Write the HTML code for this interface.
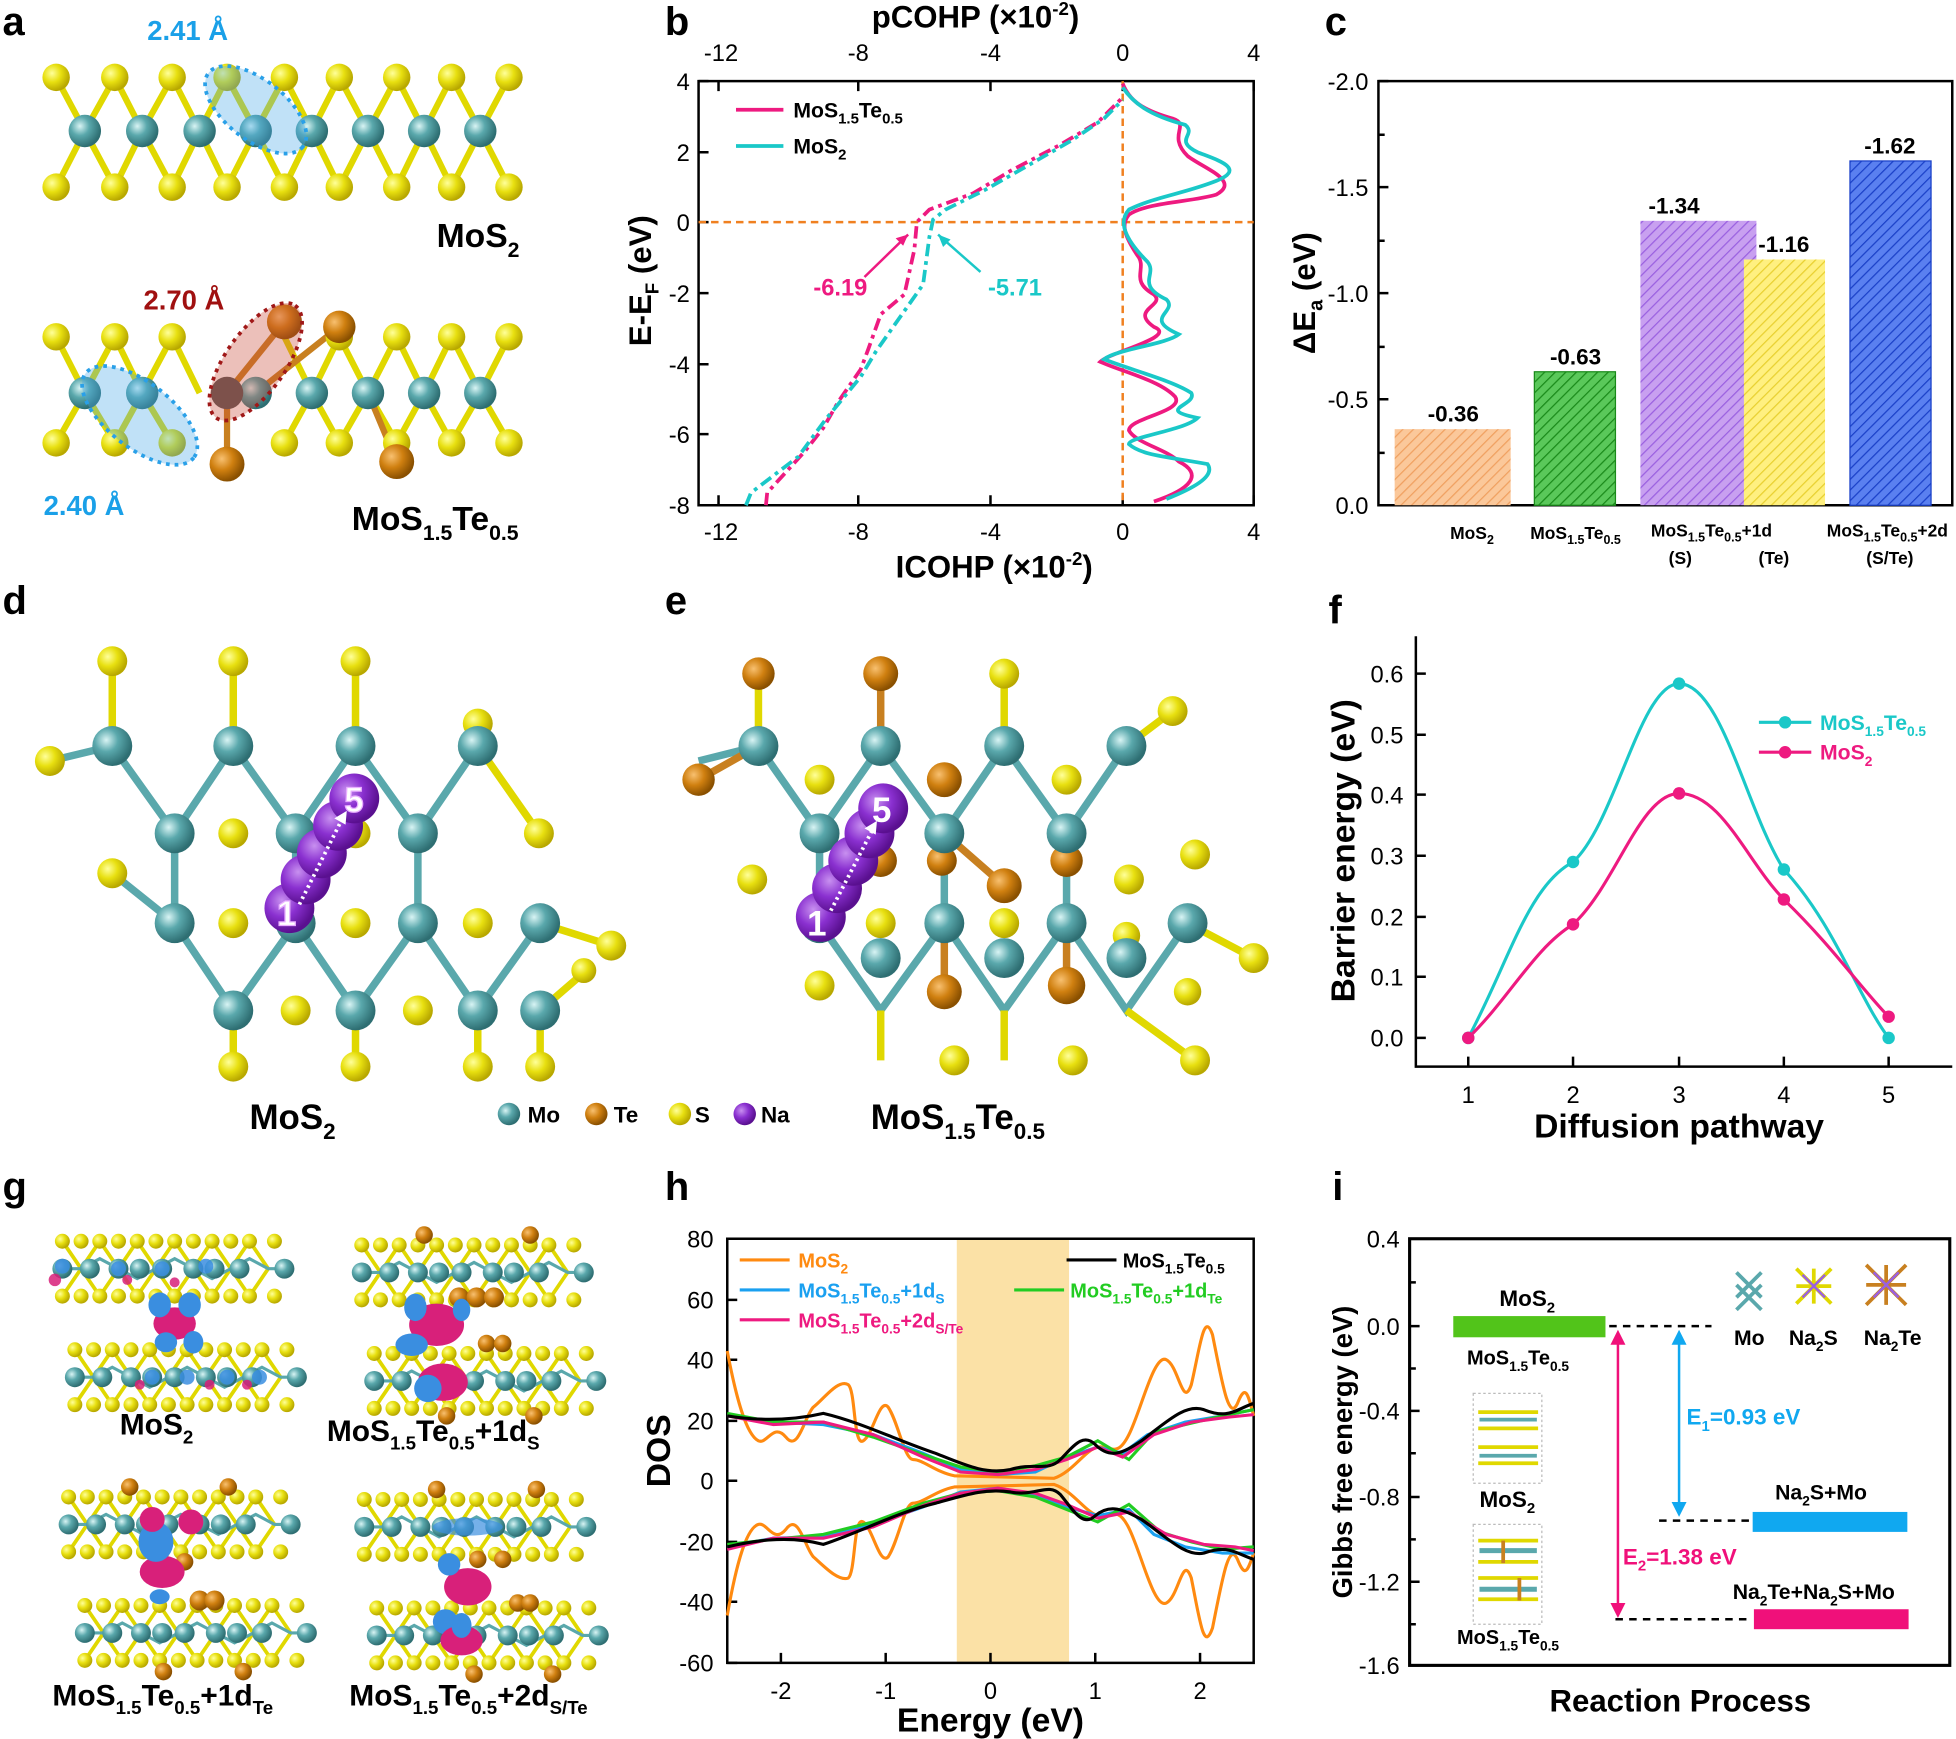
<!DOCTYPE html>
<html><head><meta charset="utf-8">
<style>
html,body{margin:0;padding:0;background:#fff;}
svg{display:block;font-family:"Liberation Sans",Arial,sans-serif;}
.t{font-size:18px;font-weight:bold;}
.tk{font-size:19px;}
.ax{font-size:25px;font-weight:bold;}
.pl{font-size:32px;font-weight:bold;}
</style></head><body>
<svg width="1956" height="1739" viewBox="0 0 1568 1394" xmlns="http://www.w3.org/2000/svg">
<defs>
<radialGradient id="gS" cx="35%" cy="35%" r="65%"><stop offset="0" stop-color="#ffff9a"/><stop offset="0.5" stop-color="#e8e010"/><stop offset="1" stop-color="#b8a800"/></radialGradient>
<radialGradient id="gM" cx="35%" cy="35%" r="65%"><stop offset="0" stop-color="#d8f4f4"/><stop offset="0.45" stop-color="#5aa8ac"/><stop offset="1" stop-color="#2e6e72"/></radialGradient>
<radialGradient id="gT" cx="35%" cy="35%" r="65%"><stop offset="0" stop-color="#f8c070"/><stop offset="0.5" stop-color="#d08010"/><stop offset="1" stop-color="#8a5000"/></radialGradient>
<radialGradient id="gN" cx="35%" cy="35%" r="65%"><stop offset="0" stop-color="#c890f0"/><stop offset="0.5" stop-color="#8a30d0"/><stop offset="1" stop-color="#5a1090"/></radialGradient>
<pattern id="hO" width="6" height="6" patternUnits="userSpaceOnUse" patternTransform="rotate(45)"><rect width="6" height="6" fill="#fbc89a"/><line x1="0" y1="0" x2="0" y2="6" stroke="#f0a060" stroke-width="2"/></pattern>
<pattern id="hG" width="6" height="6" patternUnits="userSpaceOnUse" patternTransform="rotate(45)"><rect width="6" height="6" fill="#5ac85a"/><line x1="0" y1="0" x2="0" y2="6" stroke="#1a8a1a" stroke-width="2"/></pattern>
<pattern id="hP" width="6" height="6" patternUnits="userSpaceOnUse" patternTransform="rotate(45)"><rect width="6" height="6" fill="#c8a0f0"/><line x1="0" y1="0" x2="0" y2="6" stroke="#9a60e0" stroke-width="2"/></pattern>
<pattern id="hY" width="6" height="6" patternUnits="userSpaceOnUse" patternTransform="rotate(45)"><rect width="6" height="6" fill="#fff080"/><line x1="0" y1="0" x2="0" y2="6" stroke="#e8d030" stroke-width="2"/></pattern>
<pattern id="hB" width="6" height="6" patternUnits="userSpaceOnUse" patternTransform="rotate(45)"><rect width="6" height="6" fill="#5a80f0"/><line x1="0" y1="0" x2="0" y2="6" stroke="#1a40c8" stroke-width="2"/></pattern>
<g id="L">
<path stroke="#e0d800" stroke-width="3" fill="none" d="M0 0 L15 22 L0 44 M30 0 L15 22 L30 44 M30 0 L45 22 L30 44 M60 0 L45 22 L60 44 M60 0 L75 22 L60 44 M90 0 L75 22 L90 44 M90 0 L105 22 L90 44 M120 0 L105 22 L120 44 M120 0 L135 22 L120 44 M150 0 L135 22 L150 44 M150 0 L165 22 L150 44"/>
<path stroke="#5aa8ac" stroke-width="2.5" fill="none" d="M0 22 L15 22 M15 22 L30 14 L45 22 L60 30 L75 22 L90 14 L105 22 L120 30 L135 22 L150 14 L165 22 L178 22"/>
<g fill="url(#gS)"><circle cx="0" cy="0" r="6"/><circle cx="15" cy="0" r="6"/><circle cx="30" cy="0" r="6"/><circle cx="45" cy="0" r="6"/><circle cx="60" cy="0" r="6"/><circle cx="75" cy="0" r="6"/><circle cx="90" cy="0" r="6"/><circle cx="105" cy="0" r="6"/><circle cx="120" cy="0" r="6"/><circle cx="135" cy="0" r="6"/><circle cx="150" cy="0" r="6"/><circle cx="170" cy="0" r="6"/>
<circle cx="0" cy="44" r="6"/><circle cx="15" cy="44" r="6"/><circle cx="30" cy="44" r="6"/><circle cx="45" cy="44" r="6"/><circle cx="60" cy="44" r="6"/><circle cx="75" cy="44" r="6"/><circle cx="90" cy="44" r="6"/><circle cx="105" cy="44" r="6"/><circle cx="120" cy="44" r="6"/><circle cx="135" cy="44" r="6"/><circle cx="150" cy="44" r="6"/><circle cx="170" cy="44" r="6"/></g>
<g fill="url(#gM)"><circle cx="0" cy="22" r="8"/><circle cx="22" cy="22" r="8"/><circle cx="45" cy="22" r="8"/><circle cx="62" cy="22" r="8"/><circle cx="80" cy="22" r="8"/><circle cx="105" cy="22" r="8"/><circle cx="122" cy="22" r="8"/><circle cx="142" cy="22" r="8"/><circle cx="178" cy="22" r="8"/></g>
</g>
</defs>

<text x="2" y="28" class="pl">a</text>
<text x="533" y="28" class="pl">b</text>
<text x="1062" y="28" class="pl">c</text>
<text x="2" y="492" class="pl">d</text>
<text x="533" y="492" class="pl">e</text>
<text x="1065" y="500" class="pl">f</text>
<text x="2" y="962" class="pl">g</text>
<text x="533" y="962" class="pl">h</text>
<text x="1068" y="962" class="pl">i</text>

<!-- ============ panel a ============ -->
<g stroke-width="5" fill="none" stroke="#e0d800">
<path d="M45 62 L68 105 L45 150 M92 62 L68 105 L92 150 M92 62 L114 105 L92 150 M138 62 L114 105 L138 150 M138 62 L160 105 L138 150 M182 62 L160 105 L182 150 M182 62 L205 105 L182 150 M228 62 L205 105 L228 150 M228 62 L250 105 L228 150 M272 62 L250 105 L272 150 M272 62 L295 105 L272 150 M318 62 L295 105 L318 150 M318 62 L340 105 L318 150 M362 62 L340 105 L362 150 M362 62 L385 105 L362 150 M408 62 L385 105 L408 150"/>
<path d="M45 270 L68 315 L45 355 M92 270 L68 315 L92 355 M92 270 L114 315 L92 355 M138 270 L114 315 L138 355 M138 270 L160 315 M228 270 L250 315 L228 355 M272 270 L250 315 L272 355 M272 270 L295 315 L272 355 M318 270 L295 315 L318 355 M318 270 L340 315 L318 355 M362 270 L340 315 L362 355 M362 270 L385 315 L362 355 M408 270 L385 315 L408 355"/>
</g>
<g stroke-width="5" fill="none" stroke="#c88020"><path d="M182 315 L228 258 M205 315 L272 262 M182 315 L182 372 M295 315 L318 370"/></g>
<g fill="url(#gS)">
<circle cx="45" cy="62" r="11"/><circle cx="92" cy="62" r="11"/><circle cx="138" cy="62" r="11"/><circle cx="182" cy="62" r="11"/><circle cx="228" cy="62" r="11"/><circle cx="272" cy="62" r="11"/><circle cx="318" cy="62" r="11"/><circle cx="362" cy="62" r="11"/><circle cx="408" cy="62" r="11"/>
<circle cx="45" cy="150" r="11"/><circle cx="92" cy="150" r="11"/><circle cx="138" cy="150" r="11"/><circle cx="182" cy="150" r="11"/><circle cx="228" cy="150" r="11"/><circle cx="272" cy="150" r="11"/><circle cx="318" cy="150" r="11"/><circle cx="362" cy="150" r="11"/><circle cx="408" cy="150" r="11"/>
<circle cx="45" cy="270" r="11"/><circle cx="92" cy="270" r="11"/><circle cx="138" cy="270" r="11"/><circle cx="272" cy="270" r="11"/><circle cx="318" cy="270" r="11"/><circle cx="362" cy="270" r="11"/><circle cx="408" cy="270" r="11"/>
<circle cx="45" cy="355" r="11"/><circle cx="92" cy="355" r="11"/><circle cx="138" cy="355" r="11"/><circle cx="228" cy="355" r="11"/><circle cx="272" cy="355" r="11"/><circle cx="318" cy="355" r="11"/><circle cx="362" cy="355" r="11"/><circle cx="408" cy="355" r="11"/>
</g>
<g fill="url(#gM)">
<circle cx="68" cy="105" r="13"/><circle cx="114" cy="105" r="13"/><circle cx="160" cy="105" r="13"/><circle cx="205" cy="105" r="13"/><circle cx="250" cy="105" r="13"/><circle cx="295" cy="105" r="13"/><circle cx="340" cy="105" r="13"/><circle cx="385" cy="105" r="13"/>
<circle cx="68" cy="315" r="13"/><circle cx="114" cy="315" r="13"/><circle cx="205" cy="315" r="13"/><circle cx="250" cy="315" r="13"/><circle cx="295" cy="315" r="13"/><circle cx="340" cy="315" r="13"/><circle cx="385" cy="315" r="13"/>
</g>
<g fill="url(#gT)">
<circle cx="228" cy="258" r="14"/><circle cx="272" cy="262" r="13"/><circle cx="182" cy="372" r="14"/><circle cx="318" cy="370" r="14"/>
</g>
<circle cx="182" cy="315" r="13" fill="#555"/>
<ellipse cx="205" cy="88" rx="48" ry="24" transform="rotate(38 205 88)" fill="#4aa8e8" fill-opacity="0.35" stroke="#2aa0e8" stroke-width="3" stroke-dasharray="3 4"/>
<ellipse cx="205" cy="290" rx="55" ry="24" transform="rotate(-55 205 290)" fill="#c84a3a" fill-opacity="0.35" stroke="#a01818" stroke-width="3" stroke-dasharray="3 4"/>
<ellipse cx="112" cy="333" rx="55" ry="26" transform="rotate(38 112 333)" fill="#4aa8e8" fill-opacity="0.35" stroke="#2aa0e8" stroke-width="3" stroke-dasharray="3 4"/>
<text x="118" y="32" font-size="22" font-weight="bold" fill="#1aa0e8">2.41 Å</text>
<text x="115" y="248" font-size="22" font-weight="bold" fill="#a01010">2.70 Å</text>
<text x="35" y="413" font-size="22" font-weight="bold" fill="#1aa0e8">2.40 Å</text>
<text x="350" y="198" font-size="27" font-weight="bold">MoS<tspan font-size="17" dy="8">2</tspan></text>
<text x="282" y="425" font-size="27" font-weight="bold">MoS<tspan font-size="17" dy="8">1.5</tspan><tspan dy="-8">Te</tspan><tspan font-size="17" dy="8">0.5</tspan></text>

<!-- ============ panel b ============ -->
<rect x="560" y="65" width="445" height="340" fill="none" stroke="#000" stroke-width="2"/>
<g stroke="#000" stroke-width="2">
<path d="M576 405v-8M688 405v-8M794 405v-8M900 405v-8M1005 405v-8M576 65v8M688 65v8M794 65v8M900 65v8M1005 65v8"/>
<path d="M560 65h8M560 122h8M560 178h8M560 235h8M560 292h8M560 348h8M560 405h8"/>
</g>
<g class="tk" text-anchor="middle">
<text x="578" y="433">-12</text><text x="688" y="433">-8</text><text x="794" y="433">-4</text><text x="900" y="433">0</text><text x="1005" y="433">4</text>
<text x="578" y="49">-12</text><text x="688" y="49">-8</text><text x="794" y="49">-4</text><text x="900" y="49">0</text><text x="1005" y="49">4</text>
</g>
<g class="tk" text-anchor="end">
<text x="553" y="72">4</text><text x="553" y="129">2</text><text x="553" y="185">0</text><text x="553" y="242">-2</text><text x="553" y="299">-4</text><text x="553" y="355">-6</text><text x="553" y="412">-8</text>
</g>
<text x="797" y="463" class="ax" text-anchor="middle">ICOHP (×10<tspan font-size="15" dy="-10">-2</tspan><tspan dy="10">)</tspan></text>
<text x="782" y="22" class="ax" text-anchor="middle">pCOHP (×10<tspan font-size="15" dy="-10">-2</tspan><tspan dy="10">)</tspan></text>
<text transform="translate(522 225) rotate(-90)" class="ax" text-anchor="middle">E-E<tspan font-size="15" dy="6">F</tspan><tspan dy="-6"> (eV)</tspan></text>
<line x1="560" y1="178" x2="1005" y2="178" stroke="#f08020" stroke-width="2" stroke-dasharray="6 4"/>
<line x1="900" y1="65" x2="900" y2="405" stroke="#f08020" stroke-width="2" stroke-dasharray="6 4"/>
<polyline fill="none" stroke="#ee1a80" stroke-width="3" stroke-dasharray="10 4 3 4" points="614,405 615,395 645,362 660,343 672,322 690,296 696,280 706,252 725,236 733,200 735,178 745,168 780,155 810,137 850,116 880,98 900,78"/>
<polyline fill="none" stroke="#1ac8c8" stroke-width="3" stroke-dasharray="10 4 3 4" points="598,405 602,395 640,366 662,336 690,302 702,282 716,262 740,228 745,190 748,176 758,168 790,152 820,135 860,112 885,95 900,80"/>
<path fill="none" stroke="#ee1a80" stroke-width="3" d="M900 67 C905 80 915 88 940 95 C955 100 935 108 952 125 C965 135 995 145 975 156 C955 162 920 162 905 172 C898 180 902 190 912 205 C920 215 905 225 925 236 C935 245 905 248 925 262 C945 270 890 282 882 290 C900 298 930 305 942 318 C950 330 905 335 905 345 C910 355 935 360 945 370 C965 380 955 392 925 402"/>
<path fill="none" stroke="#1ac8c8" stroke-width="3" d="M900 70 C908 82 920 92 950 100 C960 108 940 112 960 122 C975 128 1000 135 975 145 C950 155 925 158 905 168 C896 178 902 192 920 210 C928 220 910 228 935 240 C945 250 915 255 945 268 C935 276 895 280 885 288 C905 296 940 305 955 315 C960 325 925 328 960 335 C950 345 905 350 905 356 C915 365 935 366 968 372 C975 382 955 392 935 400"/>
<line x1="590" y1="88" x2="628" y2="88" stroke="#ee1a80" stroke-width="3"/>
<line x1="590" y1="117" x2="628" y2="117" stroke="#1ac8c8" stroke-width="3"/>
<text x="636" y="94" font-size="17" font-weight="bold">MoS<tspan font-size="12" dy="5">1.5</tspan><tspan dy="-5">Te</tspan><tspan font-size="12" dy="5">0.5</tspan></text>
<text x="636" y="123" font-size="17" font-weight="bold">MoS<tspan font-size="12" dy="5">2</tspan></text>
<line x1="693" y1="222" x2="728" y2="188" stroke="#ee1a80" stroke-width="2"/><path d="M728 188 l-10 3 l6 6z" fill="#ee1a80"/>
<line x1="786" y1="218" x2="752" y2="188" stroke="#1ac8c8" stroke-width="2"/><path d="M752 188 l4 10 l6 -6z" fill="#1ac8c8"/>
<text x="652" y="237" font-size="19" font-weight="bold" fill="#ee1a80">-6.19</text>
<text x="792" y="237" font-size="19" font-weight="bold" fill="#1ac8c8">-5.71</text>

<!-- ============ panel c ============ -->
<rect x="1105" y="65" width="460" height="340" fill="none" stroke="#000" stroke-width="2"/>
<g stroke="#000" stroke-width="2"><path d="M1105 65h8M1105 150h8M1105 235h8M1105 320h8M1105 405h8M1105 108h5M1105 193h5M1105 278h5M1105 363h5"/></g>
<g class="tk" text-anchor="end">
<text x="1097" y="72">-2.0</text><text x="1097" y="157">-1.5</text><text x="1097" y="242">-1.0</text><text x="1097" y="327">-0.5</text><text x="1097" y="412">0.0</text>
</g>
<text transform="translate(1054 235) rotate(-90)" class="ax" text-anchor="middle">ΔE<tspan font-size="16" dy="6">a</tspan><tspan dy="-6"> (eV)</tspan></text>
<rect x="1118" y="344" width="93" height="61" fill="url(#hO)"/>
<rect x="1230" y="298" width="65" height="107" fill="url(#hG)" stroke="#1a8a1a"/>
<rect x="1315" y="177" width="93" height="228" fill="url(#hP)"/>
<rect x="1398" y="208" width="65" height="197" fill="url(#hY)"/>
<rect x="1483" y="129" width="65" height="276" fill="url(#hB)" stroke="#1a40c8"/>
<g class="t" text-anchor="middle">
<text x="1165" y="338">-0.36</text><text x="1263" y="292">-0.63</text><text x="1342" y="171">-1.34</text><text x="1430" y="202">-1.16</text><text x="1515" y="123">-1.62</text>
</g>
<g font-size="14" font-weight="bold" text-anchor="middle">
<text x="1180" y="432">MoS<tspan font-size="10" dy="4">2</tspan></text>
<text x="1263" y="432">MoS<tspan font-size="10" dy="4">1.5</tspan><tspan dy="-4">Te</tspan><tspan font-size="10" dy="4">0.5</tspan></text>
<text x="1372" y="430">MoS<tspan font-size="10" dy="4">1.5</tspan><tspan dy="-4">Te</tspan><tspan font-size="10" dy="4">0.5</tspan><tspan dy="-4">+1d</tspan></text>
<text x="1347" y="452">(S)</text><text x="1422" y="452">(Te)</text>
<text x="1513" y="430">MoS<tspan font-size="10" dy="4">1.5</tspan><tspan dy="-4">Te</tspan><tspan font-size="10" dy="4">0.5</tspan><tspan dy="-4">+2d</tspan></text>
<text x="1515" y="452">(S/Te)</text>
</g>

<!-- ============ panel d ============ -->
<g stroke-width="6" fill="none">
<g stroke="#5aa8ac">
<path d="M90 598 L140 668 L187 598 L237 668 L285 598 L335 668 L383 598 M140 668 L140 740 L187 810 L237 740 L285 810 L335 740 L383 810 L433 740 M237 668 L237 740 M335 668 L335 740 M90 598 L40 610 M140 740 L90 700"/>
</g>
<g stroke="#e0d800">
<path d="M90 598 L90 530 M187 598 L187 530 M285 598 L285 530 M383 598 L432 668 M433 740 L490 758 M187 810 L187 855 M285 810 L285 855 M383 810 L383 855 M433 810 L433 855 M433 810 L470 778"/>
</g>
</g>
<g fill="url(#gS)">
<circle cx="90" cy="530" r="12"/><circle cx="187" cy="530" r="12"/><circle cx="285" cy="530" r="12"/><circle cx="40" cy="610" r="12"/><circle cx="383" cy="580" r="12"/><circle cx="90" cy="700" r="12"/><circle cx="432" cy="668" r="12"/><circle cx="187" cy="668" r="12"/><circle cx="285" cy="668" r="12"/><circle cx="187" cy="740" r="12"/><circle cx="285" cy="740" r="12"/><circle cx="383" cy="740" r="12"/><circle cx="490" cy="758" r="12"/><circle cx="187" cy="855" r="12"/><circle cx="285" cy="855" r="12"/><circle cx="383" cy="855" r="12"/><circle cx="433" cy="855" r="12"/><circle cx="237" cy="810" r="12"/><circle cx="335" cy="810" r="12"/><circle cx="468" cy="778" r="10"/>
</g>
<g fill="url(#gM)">
<circle cx="90" cy="598" r="16"/><circle cx="187" cy="598" r="16"/><circle cx="285" cy="598" r="16"/><circle cx="383" cy="598" r="16"/><circle cx="140" cy="668" r="16"/><circle cx="237" cy="668" r="16"/><circle cx="335" cy="668" r="16"/><circle cx="140" cy="740" r="16"/><circle cx="237" cy="740" r="16"/><circle cx="335" cy="740" r="16"/><circle cx="433" cy="740" r="16"/><circle cx="187" cy="810" r="16"/><circle cx="285" cy="810" r="16"/><circle cx="383" cy="810" r="16"/><circle cx="433" cy="810" r="16"/>
</g>
<g fill="url(#gN)">
<circle cx="232" cy="728" r="20"/><circle cx="245" cy="705" r="20"/><circle cx="258" cy="684" r="20"/><circle cx="271" cy="662" r="20"/><circle cx="284" cy="640" r="20"/>
</g>
<line x1="240" y1="725" x2="275" y2="655" stroke="#fff" stroke-width="3" stroke-dasharray="2 3"/>
<path d="M278 650 l-10 6 l9 5z" fill="#fff"/>
<text x="222" y="742" font-size="28" font-weight="bold" fill="#fff" stroke="#e8b0ff" stroke-width="1">1</text>
<text x="276" y="651" font-size="28" font-weight="bold" fill="#fff" stroke="#e8b0ff" stroke-width="1">5</text>
<text x="200" y="905" font-size="28" font-weight="bold">MoS<tspan font-size="18" dy="8">2</tspan></text>
<circle cx="408" cy="893" r="9" fill="url(#gM)"/><text x="423" y="900" font-size="18" font-weight="bold">Mo</text>
<circle cx="478" cy="893" r="9" fill="url(#gT)"/><text x="492" y="900" font-size="18" font-weight="bold">Te</text>
<circle cx="545" cy="893" r="9" fill="url(#gS)"/><text x="557" y="900" font-size="18" font-weight="bold">S</text>
<circle cx="597" cy="893" r="9" fill="url(#gN)"/><text x="610" y="900" font-size="18" font-weight="bold">Na</text>

<!-- ============ panel e ============ -->
<g stroke-width="6" fill="none">
<g stroke="#5aa8ac">
<path d="M608 598 L657 668 L706 598 L757 668 L805 598 L855 668 L903 598 M657 668 L657 740 L706 810 L757 740 L805 810 L855 740 L903 810 L952 740 M757 668 L757 740 M855 668 L855 740 M608 598 L560 610"/>
</g>
<g stroke="#e0d800"><path d="M608 598 L608 540 M805 598 L805 540 M903 598 L940 570 M952 740 L1005 768 M903 810 L958 850 M706 810 L706 850 M805 810 L805 850"/></g>
<g stroke="#c88020"><path d="M706 598 L706 540 M608 598 L560 625 M757 740 L757 800 M855 740 L855 790 M757 668 L805 710"/></g>
</g>
<g fill="url(#gT)">
<circle cx="608" cy="540" r="13"/><circle cx="706" cy="540" r="14"/><circle cx="560" cy="625" r="13"/><circle cx="757" cy="625" r="14"/><circle cx="805" cy="710" r="14"/><circle cx="855" cy="690" r="13"/><circle cx="757" cy="795" r="14"/><circle cx="855" cy="790" r="15"/><circle cx="706" cy="690" r="13"/><circle cx="755" cy="690" r="12"/>
</g>
<g fill="url(#gS)">
<circle cx="805" cy="540" r="12"/><circle cx="940" cy="570" r="12"/><circle cx="657" cy="625" r="12"/><circle cx="855" cy="625" r="12"/><circle cx="603" cy="705" r="12"/><circle cx="958" cy="685" r="12"/><circle cx="905" cy="705" r="12"/><circle cx="706" cy="740" r="12"/><circle cx="805" cy="740" r="12"/><circle cx="657" cy="790" r="12"/><circle cx="1005" cy="768" r="12"/><circle cx="765" cy="850" r="12"/><circle cx="860" cy="850" r="12"/><circle cx="958" cy="850" r="12"/><circle cx="952" cy="795" r="11"/><circle cx="903" cy="750" r="11"/>
</g>
<g fill="url(#gM)">
<circle cx="608" cy="598" r="16"/><circle cx="706" cy="598" r="16"/><circle cx="805" cy="598" r="16"/><circle cx="903" cy="598" r="16"/><circle cx="657" cy="668" r="16"/><circle cx="757" cy="668" r="16"/><circle cx="855" cy="668" r="16"/><circle cx="657" cy="740" r="16"/><circle cx="757" cy="740" r="16"/><circle cx="855" cy="740" r="16"/><circle cx="952" cy="740" r="16"/><circle cx="706" cy="768" r="16"/><circle cx="805" cy="768" r="16"/><circle cx="903" cy="768" r="16"/>
</g>
<g fill="url(#gN)">
<circle cx="658" cy="735" r="20"/><circle cx="671" cy="712" r="20"/><circle cx="684" cy="690" r="20"/><circle cx="697" cy="668" r="20"/><circle cx="708" cy="648" r="20"/>
</g>
<line x1="666" y1="730" x2="700" y2="664" stroke="#fff" stroke-width="3" stroke-dasharray="2 3"/>
<path d="M703 658 l-10 6 l9 5z" fill="#fff"/>
<text x="647" y="750" font-size="28" font-weight="bold" fill="#fff">1</text>
<text x="699" y="659" font-size="28" font-weight="bold" fill="#fff">5</text>
<text x="698" y="905" font-size="28" font-weight="bold">MoS<tspan font-size="18" dy="8">1.5</tspan><tspan dy="-8">Te</tspan><tspan font-size="18" dy="8">0.5</tspan></text>

<!-- ============ panel f ============ -->
<path d="M1135 510 V855 H1565" fill="none" stroke="#000" stroke-width="2"/>
<g stroke="#000" stroke-width="2"><path d="M1135 832h8M1135 783h8M1135 735h8M1135 686h8M1135 637h8M1135 589h8M1135 540h8M1177 855v-8M1261 855v-8M1346 855v-8M1430 855v-8M1514 855v-8"/></g>
<g class="tk" text-anchor="end">
<text x="1125" y="839">0.0</text><text x="1125" y="790">0.1</text><text x="1125" y="742">0.2</text><text x="1125" y="693">0.3</text><text x="1125" y="644">0.4</text><text x="1125" y="596">0.5</text><text x="1125" y="547">0.6</text>
</g>
<g class="tk" text-anchor="middle"><text x="1177" y="884">1</text><text x="1261" y="884">2</text><text x="1346" y="884">3</text><text x="1430" y="884">4</text><text x="1514" y="884">5</text></g>
<text x="1346" y="912" font-size="27" font-weight="bold" text-anchor="middle">Diffusion pathway</text>
<text transform="translate(1086 682) rotate(-90)" font-size="27" font-weight="bold" text-anchor="middle">Barrier energy (eV)</text>
<path d="M1177 832 C1210 770 1225 710 1261 691 C1295 660 1315 548 1346 548 C1380 548 1400 650 1430 697 C1470 740 1490 800 1514 832" fill="none" stroke="#1ac8c8" stroke-width="2.5"/>
<path d="M1177 832 C1210 800 1230 760 1261 741 C1295 710 1315 636 1346 636 C1380 636 1400 690 1430 721 C1470 760 1490 790 1514 815" fill="none" stroke="#ee1a80" stroke-width="2.5"/>
<g fill="#1ac8c8"><circle cx="1177" cy="832" r="5"/><circle cx="1261" cy="691" r="5"/><circle cx="1346" cy="548" r="5"/><circle cx="1430" cy="697" r="5"/><circle cx="1514" cy="832" r="5"/></g>
<g fill="#ee1a80"><circle cx="1177" cy="832" r="5"/><circle cx="1261" cy="741" r="5"/><circle cx="1346" cy="636" r="5"/><circle cx="1430" cy="721" r="5"/><circle cx="1514" cy="815" r="5"/></g>
<line x1="1410" y1="579" x2="1452" y2="579" stroke="#1ac8c8" stroke-width="2.5"/><circle cx="1431" cy="579" r="5" fill="#1ac8c8"/>
<line x1="1410" y1="603" x2="1452" y2="603" stroke="#ee1a80" stroke-width="2.5"/><circle cx="1431" cy="603" r="5" fill="#ee1a80"/>
<text x="1459" y="585" font-size="17" font-weight="bold" fill="#1ac8c8">MoS<tspan font-size="11" dy="5">1.5</tspan><tspan dy="-5">Te</tspan><tspan font-size="11" dy="5">0.5</tspan></text>
<text x="1459" y="609" font-size="17" font-weight="bold" fill="#ee1a80">MoS<tspan font-size="11" dy="5">2</tspan></text>

<!-- ============ panel g ============ -->
<use href="#L" x="50" y="995"/>
<use href="#L" x="60" y="1082"/>
<g fill="#3a8ee0" opacity="0.85"><circle cx="50" cy="1015" r="6"/><circle cx="95" cy="1017" r="6"/><circle cx="130" cy="1017" r="6"/><circle cx="165" cy="1015" r="6"/><circle cx="122" cy="1104" r="6"/><circle cx="150" cy="1104" r="6"/><circle cx="182" cy="1104" r="6"/><circle cx="208" cy="1104" r="6"/></g>
<g fill="#d8207a" opacity="0.85"><circle cx="44" cy="1026" r="5"/><circle cx="102" cy="1026" r="4"/><circle cx="140" cy="1028" r="4"/><circle cx="112" cy="1110" r="4"/><circle cx="168" cy="1110" r="4"/><circle cx="198" cy="1110" r="4"/></g>
<ellipse cx="140" cy="1061" rx="17" ry="13" fill="#d8207a"/><ellipse cx="128" cy="1046" rx="9" ry="10" fill="#3a8ee0"/><ellipse cx="152" cy="1046" rx="9" ry="10" fill="#3a8ee0"/><ellipse cx="133" cy="1076" rx="9" ry="8" fill="#3a8ee0"/><ellipse cx="155" cy="1076" rx="8" ry="9" fill="#3a8ee0"/>
<text x="96" y="1150" font-size="24" font-weight="bold">MoS<tspan font-size="15" dy="7">2</tspan></text>
<use href="#L" x="290" y="998"/>
<use href="#L" x="300" y="1085"/>
<g fill="url(#gT)"><circle cx="340" cy="990" r="7"/><circle cx="425" cy="990" r="7"/><circle cx="368" cy="1040" r="8"/><circle cx="382" cy="1040" r="8"/><circle cx="396" cy="1040" r="8"/><circle cx="390" cy="1077" r="7"/><circle cx="403" cy="1077" r="7"/><circle cx="358" cy="1135" r="7"/><circle cx="428" cy="1135" r="7"/></g>
<ellipse cx="350" cy="1062" rx="22" ry="17" fill="#d8207a"/><ellipse cx="333" cy="1048" rx="9" ry="11" fill="#3a8ee0"/><ellipse cx="330" cy="1078" rx="13" ry="9" fill="#3a8ee0"/><ellipse cx="355" cy="1108" rx="20" ry="15" fill="#d8207a"/><ellipse cx="343" cy="1113" rx="11" ry="11" fill="#3a8ee0"/><ellipse cx="370" cy="1050" rx="7" ry="9" fill="#3a8ee0"/>
<text x="262" y="1155" font-size="24" font-weight="bold">MoS<tspan font-size="15" dy="7">1.5</tspan><tspan dy="-7">Te</tspan><tspan font-size="15" dy="7">0.5</tspan><tspan dy="-7">+1d</tspan><tspan font-size="15" dy="7">S</tspan></text>
<use href="#L" x="55" y="1200"/>
<use href="#L" x="68" y="1287"/>
<g fill="url(#gT)"><circle cx="104" cy="1192" r="7"/><circle cx="183" cy="1192" r="7"/><circle cx="148" cy="1252" r="7"/><circle cx="160" cy="1283" r="8"/><circle cx="172" cy="1283" r="8"/><circle cx="131" cy="1340" r="7"/><circle cx="195" cy="1340" r="7"/></g>
<ellipse cx="130" cy="1260" rx="18" ry="13" fill="#d8207a"/><ellipse cx="125" cy="1236" rx="14" ry="16" fill="#3a8ee0"/><ellipse cx="122" cy="1218" rx="10" ry="10" fill="#d8207a"/><ellipse cx="153" cy="1220" rx="10" ry="10" fill="#d8207a"/><ellipse cx="128" cy="1280" rx="8" ry="6" fill="#3a8ee0"/>
<text x="42" y="1367" font-size="24" font-weight="bold">MoS<tspan font-size="15" dy="7">1.5</tspan><tspan dy="-7">Te</tspan><tspan font-size="15" dy="7">0.5</tspan><tspan dy="-7">+1d</tspan><tspan font-size="15" dy="7">Te</tspan></text>
<use href="#L" x="292" y="1202"/>
<use href="#L" x="302" y="1289"/>
<g fill="url(#gT)"><circle cx="350" cy="1194" r="7"/><circle cx="430" cy="1194" r="7"/><circle cx="383" cy="1250" r="7"/><circle cx="403" cy="1250" r="7"/><circle cx="415" cy="1285" r="7"/><circle cx="425" cy="1285" r="7"/><circle cx="380" cy="1342" r="7"/><circle cx="443" cy="1342" r="7"/></g>
<ellipse cx="375" cy="1272" rx="19" ry="15" fill="#d8207a"/><ellipse cx="360" cy="1254" rx="9" ry="9" fill="#3a8ee0"/><ellipse cx="357" cy="1300" rx="10" ry="10" fill="#3a8ee0"/><ellipse cx="370" cy="1315" rx="17" ry="12" fill="#d8207a"/><ellipse cx="370" cy="1303" rx="8" ry="10" fill="#3a8ee0"/><ellipse cx="375" cy="1224" rx="28" ry="7" fill="#3a8ee0" opacity="0.7"/>
<text x="280" y="1367" font-size="24" font-weight="bold">MoS<tspan font-size="15" dy="7">1.5</tspan><tspan dy="-7">Te</tspan><tspan font-size="15" dy="7">0.5</tspan><tspan dy="-7">+2d</tspan><tspan font-size="15" dy="7">S/Te</tspan></text>

<!-- ============ panel h ============ -->
<rect x="767" y="993" width="90" height="340" fill="#fbe1a6"/>
<rect x="583" y="993" width="422" height="340" fill="none" stroke="#000" stroke-width="2"/>
<g stroke="#000" stroke-width="2"><path d="M626 1333v-8M710 1333v-8M794 1333v-8M878 1333v-8M962 1333v-8M583 993h8M583 1042h8M583 1090h8M583 1139h8M583 1187h8M583 1236h8M583 1284h8M583 1333h8"/></g>
<g class="tk" text-anchor="end">
<text x="572" y="1000">80</text><text x="572" y="1049">60</text><text x="572" y="1097">40</text><text x="572" y="1146">20</text><text x="572" y="1194">0</text><text x="572" y="1243">-20</text><text x="572" y="1291">-40</text><text x="572" y="1340">-60</text>
</g>
<g class="tk" text-anchor="middle"><text x="626" y="1362">-2</text><text x="710" y="1362">-1</text><text x="794" y="1362">0</text><text x="878" y="1362">1</text><text x="962" y="1362">2</text></g>
<text x="794" y="1388" font-size="27" font-weight="bold" text-anchor="middle">Energy (eV)</text>
<text transform="translate(537 1163) rotate(-90)" font-size="27" font-weight="bold" text-anchor="middle">DOS</text>
<path fill="none" stroke="#ff8a10" stroke-width="2.5" d="M583 1083 C590 1120 598 1150 608 1155 C615 1158 620 1140 630 1152 C640 1165 645 1135 652 1128 C660 1122 672 1105 680 1110 C686 1115 684 1160 692 1155 C700 1150 705 1120 712 1128 C720 1140 725 1170 732 1170 C740 1170 750 1180 765 1183 L845 1185 C860 1180 870 1162 880 1160 C890 1158 895 1170 905 1150 C915 1130 925 1085 935 1090 C945 1095 948 1130 955 1110 C962 1080 965 1050 972 1070 C980 1110 985 1140 992 1125 C998 1110 1000 1115 1005 1135"/>
<polyline fill="none" stroke="#1aa0f0" stroke-width="2.5" points="583,1135 620,1140 660,1142 700,1150 740,1165 770,1178 800,1182 830,1180 855,1168 880,1160 900,1165 920,1150 950,1140 980,1135 1005,1130"/>
<polyline fill="none" stroke="#22cc22" stroke-width="2.5" points="583,1133 620,1140 660,1140 700,1152 740,1166 770,1176 800,1180 830,1175 855,1168 880,1155 905,1170 925,1148 950,1142 980,1135 1005,1130"/>
<polyline fill="none" stroke="#ee1a80" stroke-width="2.5" points="583,1135 620,1142 660,1140 700,1150 740,1168 770,1180 800,1182 830,1178 855,1170 880,1160 900,1168 925,1150 955,1140 985,1136 1005,1134"/>
<path fill="none" stroke="#000" stroke-width="2.5" d="M583 1135 C600 1138 630 1140 660 1133 C690 1140 720 1155 750 1165 C775 1175 790 1182 810 1178 C830 1172 840 1180 850 1170 C860 1160 868 1148 878 1158 C890 1170 900 1165 915 1155 C935 1140 950 1125 965 1130 C985 1138 990 1130 1005 1125"/>
<path fill="none" stroke="#ff8a10" stroke-width="2.5" d="M583 1295 C590 1255 598 1225 608 1222 C615 1220 620 1238 630 1226 C640 1212 645 1240 652 1248 C660 1255 672 1268 680 1265 C686 1260 684 1215 692 1220 C700 1226 705 1255 712 1248 C720 1236 725 1205 732 1205 C740 1205 750 1195 765 1192 L845 1190 C860 1195 870 1212 880 1215 C890 1218 895 1205 905 1225 C915 1245 925 1290 935 1285 C945 1280 948 1245 955 1265 C962 1300 965 1325 972 1305 C980 1265 985 1235 992 1250 C998 1265 1000 1260 1005 1245"/>
<polyline fill="none" stroke="#1aa0f0" stroke-width="2.5" points="583,1240 620,1233 660,1232 700,1222 740,1208 770,1196 800,1193 830,1198 855,1208 880,1215 905,1210 925,1230 950,1240 980,1245 1005,1245"/>
<polyline fill="none" stroke="#22cc22" stroke-width="2.5" points="583,1238 620,1234 660,1230 700,1220 740,1205 770,1197 800,1195 830,1200 855,1210 880,1220 905,1206 930,1228 955,1236 980,1242 1005,1240"/>
<polyline fill="none" stroke="#ee1a80" stroke-width="2.5" points="583,1242 620,1233 660,1233 700,1224 740,1207 770,1197 800,1193 830,1197 855,1206 880,1217 905,1212 935,1230 965,1238 990,1240 1005,1243"/>
<path fill="none" stroke="#000" stroke-width="2.5" d="M583 1240 C600 1236 630 1230 660 1238 C690 1228 720 1212 750 1205 C775 1198 790 1193 810 1196 C830 1200 840 1188 850 1198 C860 1210 868 1225 878 1215 C890 1205 900 1210 915 1218 C935 1232 950 1248 965 1245 C985 1238 990 1245 1005 1250"/>
<line x1="593" y1="1010" x2="633" y2="1010" stroke="#ff8a10" stroke-width="2.5"/><text x="640" y="1016" font-size="16" font-weight="bold" fill="#ff8a10">MoS<tspan font-size="11" dy="5">2</tspan></text>
<line x1="593" y1="1034" x2="633" y2="1034" stroke="#1aa0f0" stroke-width="2.5"/><text x="640" y="1040" font-size="16" font-weight="bold" fill="#1aa0f0">MoS<tspan font-size="11" dy="5">1.5</tspan><tspan dy="-5">Te</tspan><tspan font-size="11" dy="5">0.5</tspan><tspan dy="-5">+1d</tspan><tspan font-size="11" dy="5">S</tspan></text>
<line x1="593" y1="1058" x2="633" y2="1058" stroke="#ee1a80" stroke-width="2.5"/><text x="640" y="1064" font-size="16" font-weight="bold" fill="#ee1a80">MoS<tspan font-size="11" dy="5">1.5</tspan><tspan dy="-5">Te</tspan><tspan font-size="11" dy="5">0.5</tspan><tspan dy="-5">+2d</tspan><tspan font-size="11" dy="5">S/Te</tspan></text>
<line x1="855" y1="1010" x2="895" y2="1010" stroke="#000" stroke-width="2.5"/><text x="900" y="1016" font-size="16" font-weight="bold">MoS<tspan font-size="11" dy="5">1.5</tspan><tspan dy="-5">Te</tspan><tspan font-size="11" dy="5">0.5</tspan></text>
<line x1="813" y1="1034" x2="853" y2="1034" stroke="#22cc22" stroke-width="2.5"/><text x="858" y="1040" font-size="16" font-weight="bold" fill="#22cc22">MoS<tspan font-size="11" dy="5">1.5</tspan><tspan dy="-5">Te</tspan><tspan font-size="11" dy="5">0.5</tspan><tspan dy="-5">+1d</tspan><tspan font-size="11" dy="5">Te</tspan></text>

<!-- ============ panel i ============ -->
<rect x="1130" y="993" width="433" height="342" fill="none" stroke="#000" stroke-width="2.5"/>
<g stroke="#000" stroke-width="2"><path d="M1130 993h8M1130 1063h8M1130 1131h8M1130 1200h8M1130 1268h8M1130 1335h8M1130 1028h5M1130 1097h5M1130 1165h5M1130 1234h5M1130 1302h5"/></g>
<g class="tk" text-anchor="end">
<text x="1122" y="1000">0.4</text><text x="1122" y="1070">0.0</text><text x="1122" y="1138">-0.4</text><text x="1122" y="1207">-0.8</text><text x="1122" y="1275">-1.2</text><text x="1122" y="1342">-1.6</text>
</g>
<text transform="translate(1084 1164) rotate(-90)" font-size="22" font-weight="bold" text-anchor="middle">Gibbs free energy (eV)</text>
<text x="1347" y="1372" font-size="25" font-weight="bold" text-anchor="middle">Reaction Process</text>
<rect x="1165" y="1055" width="122" height="17" fill="#52c41a"/>
<rect x="1405" y="1212" width="124" height="16" fill="#10a8f0"/>
<rect x="1406" y="1290" width="124" height="16" fill="#f0107a"/>
<g stroke="#000" stroke-width="2" stroke-dasharray="6 5"><path d="M1290 1063H1372M1330 1219H1404M1295 1298H1404"/></g>
<line x1="1346" y1="1070" x2="1346" y2="1212" stroke="#10a8f0" stroke-width="2"/>
<path d="M1346 1066 l-6 12 h12z M1346 1216 l-6 -12 h12z" fill="#10a8f0"/>
<line x1="1297" y1="1070" x2="1297" y2="1293" stroke="#f0107a" stroke-width="2"/>
<path d="M1297 1066 l-6 12 h12z M1297 1297 l-6 -12 h12z" fill="#f0107a"/>
<text x="1352" y="1142" font-size="18" font-weight="bold" fill="#10a8f0">E<tspan font-size="12" dy="5">1</tspan><tspan dy="-5">=0.93 eV</tspan></text>
<text x="1301" y="1254" font-size="18" font-weight="bold" fill="#f0107a">E<tspan font-size="12" dy="5">2</tspan><tspan dy="-5">=1.38 eV</tspan></text>
<text x="1202" y="1047" font-size="18" font-weight="bold">MoS<tspan font-size="12" dy="5">2</tspan></text>
<text x="1176" y="1094" font-size="16" font-weight="bold">MoS<tspan font-size="11" dy="5">1.5</tspan><tspan dy="-5">Te</tspan><tspan font-size="11" dy="5">0.5</tspan></text>
<text x="1186" y="1208" font-size="18" font-weight="bold">MoS<tspan font-size="12" dy="5">2</tspan></text>
<text x="1168" y="1318" font-size="16" font-weight="bold">MoS<tspan font-size="11" dy="5">1.5</tspan><tspan dy="-5">Te</tspan><tspan font-size="11" dy="5">0.5</tspan></text>
<text x="1423" y="1202" font-size="17" font-weight="bold">Na<tspan font-size="11" dy="5">2</tspan><tspan dy="-5">S+Mo</tspan></text>
<text x="1389" y="1282" font-size="17" font-weight="bold">Na<tspan font-size="11" dy="5">2</tspan><tspan dy="-5">Te+Na</tspan><tspan font-size="11" dy="5">2</tspan><tspan dy="-5">S+Mo</tspan></text>
<text x="1390" y="1078" font-size="17" font-weight="bold">Mo</text>
<text x="1434" y="1078" font-size="17" font-weight="bold">Na<tspan font-size="11" dy="5">2</tspan><tspan dy="-5">S</tspan></text>
<text x="1494" y="1078" font-size="17" font-weight="bold">Na<tspan font-size="11" dy="5">2</tspan><tspan dy="-5">Te</tspan></text>
<g stroke="#5aa8ac" stroke-width="3"><path d="M1392 1020 l20 20 M1412 1020 l-20 20 M1392 1030 l20 20 M1412 1030 l-20 20"/></g>
<g stroke="#e0d800" stroke-width="3"><path d="M1440 1017 l28 28 M1468 1017 l-28 28 M1440 1031 h28 M1454 1017 v28"/></g>
<g stroke="#9a60e0" stroke-width="2"><path d="M1445 1022 l18 18 M1463 1022 l-18 18"/></g>
<g stroke="#c88020" stroke-width="3"><path d="M1496 1014 l32 32 M1528 1014 l-32 32 M1496 1030 h32 M1512 1014 v32"/></g>
<g stroke="#9a60e0" stroke-width="2"><path d="M1502 1020 l20 20 M1522 1020 l-20 20"/></g>
<rect x="1181" y="1117" width="55" height="72" fill="none" stroke="#bbb" stroke-dasharray="2 2"/>
<g stroke="#e0d800" stroke-width="3"><path d="M1185 1132 h48 M1185 1145 h48 M1185 1160 h48 M1185 1173 h48"/></g>
<g stroke="#5aa8ac" stroke-width="3"><path d="M1186 1138 h46 M1186 1167 h46"/></g>
<rect x="1181" y="1222" width="55" height="80" fill="none" stroke="#bbb" stroke-dasharray="2 2"/>
<g stroke="#e0d800" stroke-width="3"><path d="M1185 1235 h48 M1185 1252 h48 M1185 1265 h48 M1185 1282 h48"/></g>
<g stroke="#5aa8ac" stroke-width="4"><path d="M1186 1243 h46 M1186 1274 h46"/></g>
<g stroke="#c88020" stroke-width="3"><path d="M1205 1235 v18 M1218 1265 v18"/></g>
</svg>
</body></html>
